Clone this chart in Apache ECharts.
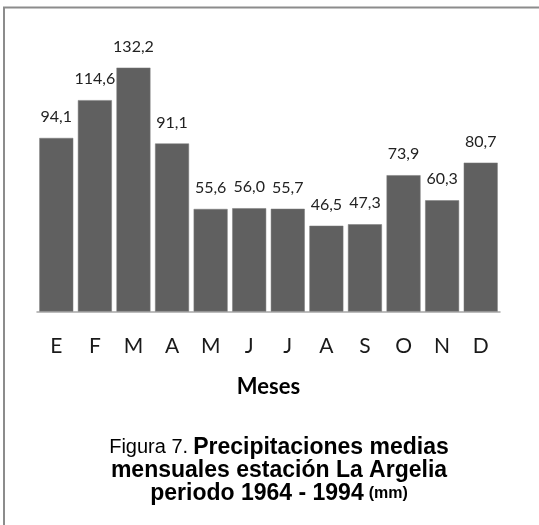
<!DOCTYPE html>
<html>
<head>
<meta charset="utf-8">
<script src="https://cdn.jsdelivr.net/npm/echarts@6/dist/echarts.min.js"></script>
<style>
html,body{margin:0;padding:0;background:#fff;}
#chart{width:539px;height:525px;}
</style>
</head>
<body>
<div id="chart"></div>
<script>
const months = ['E','F','M','A','M','J','J','A','S','O','N','D'];
const precipitation = [94.1, 114.6, 132.2, 91.1, 55.6, 56.0, 55.7, 46.5, 47.3, 73.9, 60.3, 80.7];
const axisTitle = 'Meses';
const titleFigure = 'Figura 7.';
const titleLine1 = 'Precipitaciones medias';
const titleLine2 = 'mensuales estación La Argelia';
const titleLine3 = 'periodo 1964 - 1994';
const titleUnit = '(mm)';

const chart = echarts.init(document.getElementById('chart'), null, {renderer:'canvas'});
chart.setOption({
  backgroundColor: '#ffffff',
  animation: false,
  title: {
    left: 274,
    top: 431,
    textAlign: 'center',
    text: '{a|' + titleFigure + '} {b|' + titleLine1 + '}\n{b|' + titleLine2 + '}\n{b|' + titleLine3 + '} {c|' + titleUnit + '}',
    textStyle: {
      rich: {
        a: {fontFamily: 'Liberation Sans, Arial, sans-serif', fontSize: 20, fontWeight: 'normal', color: '#000', lineHeight: 23},
        b: {fontFamily: 'Liberation Sans, Arial, sans-serif', fontSize: 23, fontWeight: 'bold', color: '#000', lineHeight: 23},
        c: {fontFamily: 'Liberation Sans, Arial, sans-serif', fontSize: 16, fontWeight: 'bold', color: '#000', lineHeight: 23}
      }
    }
  },
  graphic: [
    {type: 'line', shape: {x1: 3, y1: 7.5, x2: 539, y2: 7.5}, style: {stroke: '#8c8c8c', lineWidth: 2}, silent: true},
    {type: 'line', shape: {x1: 4, y1: 7, x2: 4, y2: 525}, style: {stroke: '#8c8c8c', lineWidth: 2}, silent: true}
  ],
  grid: {left: 37, right: 39, top: 53.3, bottom: 213.5, containLabel: false},
  xAxis: {
    type: 'category',
    data: months,
    axisLine: {show: true, lineStyle: {color: '#a6a6a6', width: 1.5}},
    axisTick: {show: false},
    axisLabel: {margin: 24, fontFamily: 'Lato, Calibri, sans-serif', fontSize: 21, color: '#1a1a1a'},
    name: axisTitle,
    nameLocation: 'middle',
    nameGap: 64,
    nameTextStyle: {fontFamily: 'Lato, Calibri, sans-serif', fontSize: 22, fontWeight: 'bold', color: '#000'}
  },
  yAxis: {
    type: 'value',
    min: 0,
    max: 140,
    show: false,
    splitLine: {show: false}
  },
  series: [{
    type: 'bar',
    data: precipitation,
    barCategoryGap: '12%',
    itemStyle: {color: '#606060', borderColor: '#7a7a7a', borderWidth: 0.5},
    label: {
      show: true,
      position: 'top',
      distance: 13,
      fontFamily: 'Lato, Calibri, sans-serif',
      fontSize: 16,
      color: '#222',
      formatter: p => p.value.toFixed(1).replace('.', ',')
    }
  }]
});
</script>
</body>
</html>
